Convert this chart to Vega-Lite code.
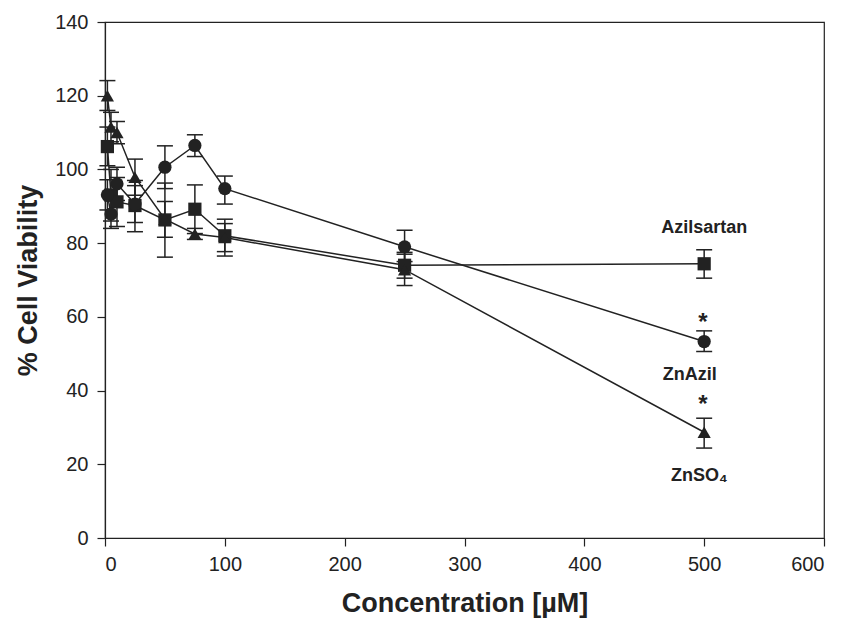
{
  "$schema": "https://vega.github.io/schema/vega-lite/v6.json",
  "width": 719,
  "height": 516,
  "autosize": {"type": "none"},
  "padding": {"left": 105, "top": 22, "right": 19, "bottom": 92},
  "background": "white",
  "config": {
    "view": {"stroke": "#222", "strokeWidth": 1.2},
    "font": "Liberation Sans",
    "axis": {"grid": false, "domainColor": "#222", "tickColor": "#222", "labelColor": "#222", "titleColor": "#222", "domainWidth": 1.2, "tickWidth": 1.2, "labelFont": "Liberation Sans", "titleFont": "Liberation Sans"}
  },
  "datasets": {
    "pts": [
      {"series": "Azilsartan", "conc": 2, "v": 106.2, "lo": 101.0, "hi": 111.5},
      {"series": "Azilsartan", "conc": 5, "v": 93.0, "lo": 86.0, "hi": 100.0},
      {"series": "Azilsartan", "conc": 10, "v": 91.2, "lo": 84.5, "hi": 97.8},
      {"series": "Azilsartan", "conc": 25, "v": 90.2, "lo": 83.1, "hi": 97.0},
      {"series": "Azilsartan", "conc": 50, "v": 86.3, "lo": 76.2, "hi": 96.3},
      {"series": "Azilsartan", "conc": 75, "v": 89.2, "lo": 82.6, "hi": 95.8},
      {"series": "Azilsartan", "conc": 100, "v": 82.0, "lo": 76.5, "hi": 86.5},
      {"series": "Azilsartan", "conc": 250, "v": 74.0, "lo": 70.5, "hi": 77.5},
      {"series": "Azilsartan", "conc": 500, "v": 74.4, "lo": 70.5, "hi": 78.2},
      {"series": "ZnAzil", "conc": 2, "v": 93.1, "lo": 89.0, "hi": 97.2},
      {"series": "ZnAzil", "conc": 5, "v": 87.9, "lo": 84.0, "hi": 91.8},
      {"series": "ZnAzil", "conc": 10, "v": 96.1, "lo": 91.6, "hi": 100.6},
      {"series": "ZnAzil", "conc": 25, "v": 90.6, "lo": 85.6, "hi": 95.6},
      {"series": "ZnAzil", "conc": 50, "v": 100.6, "lo": 94.8, "hi": 106.4},
      {"series": "ZnAzil", "conc": 75, "v": 106.5, "lo": 103.5, "hi": 109.4},
      {"series": "ZnAzil", "conc": 100, "v": 94.8, "lo": 90.6, "hi": 98.2},
      {"series": "ZnAzil", "conc": 250, "v": 79.0, "lo": 75.0, "hi": 83.5},
      {"series": "ZnAzil", "conc": 500, "v": 53.3, "lo": 50.6, "hi": 56.2},
      {"series": "ZnSO4", "conc": 2, "v": 120.0, "lo": 116.0, "hi": 124.1},
      {"series": "ZnSO4", "conc": 5, "v": 111.5, "lo": 107.5, "hi": 115.5},
      {"series": "ZnSO4", "conc": 10, "v": 110.0, "lo": 107.0, "hi": 113.0},
      {"series": "ZnSO4", "conc": 25, "v": 97.9, "lo": 93.0, "hi": 102.8},
      {"series": "ZnSO4", "conc": 50, "v": 86.5, "lo": 81.6, "hi": 91.3},
      {"series": "ZnSO4", "conc": 75, "v": 82.5, "lo": 81.0, "hi": 84.0},
      {"series": "ZnSO4", "conc": 100, "v": 81.5, "lo": 77.7, "hi": 85.3},
      {"series": "ZnSO4", "conc": 250, "v": 72.8, "lo": 68.5, "hi": 77.0},
      {"series": "ZnSO4", "conc": 500, "v": 28.7, "lo": 24.4, "hi": 32.5}
    ],
    "labels": [
      {"conc": 500, "v": 84.0, "text": "Azilsartan"},
      {"conc": 488, "v": 44.3, "text": "ZnAzil"},
      {"conc": 496, "v": 16.7, "text": "ZnSO₄"}
    ],
    "stars": [
      {"conc": 499, "v": 58.4, "text": "*"},
      {"conc": 499, "v": 36.0, "text": "*"}
    ]
  },
  "encoding": {
    "x": {
      "field": "conc", "type": "quantitative",
      "scale": {"domain": [0, 600], "nice": false, "zero": false},
      "axis": {"title": "Concentration [µM]", "values": [0, 100, 200, 300, 400, 500, 600], "tickSize": 8, "labelFontSize": 20, "labelPadding": 8, "titleFontSize": 27, "titleFontWeight": "bold", "titlePadding": 16}
    },
    "y": {
      "field": "v", "type": "quantitative",
      "scale": {"domain": [0, 140], "nice": false},
      "axis": {"title": "% Cell Viability", "values": [0, 20, 40, 60, 80, 100, 120, 140], "tickSize": 8, "labelFontSize": 20, "labelPadding": 9, "titleFontSize": 27, "titleFontWeight": "bold", "titlePadding": 12}
    }
  },
  "layer": [
    {
      "data": {"name": "pts"},
      "mark": {"type": "line", "color": "#222", "strokeWidth": 1.5},
      "encoding": {"detail": {"field": "series"}, "order": {"field": "conc", "type": "quantitative"}}
    },
    {
      "data": {"name": "pts"},
      "mark": {"type": "rule", "color": "#222", "strokeWidth": 1.5},
      "encoding": {"y": {"field": "lo", "type": "quantitative"}, "y2": {"field": "hi"}}
    },
    {
      "data": {"name": "pts"},
      "mark": {"type": "tick", "orient": "horizontal", "color": "#222", "size": 16, "thickness": 1.5, "opacity": 1},
      "encoding": {"y": {"field": "lo", "type": "quantitative"}}
    },
    {
      "data": {"name": "pts"},
      "mark": {"type": "tick", "orient": "horizontal", "color": "#222", "size": 16, "thickness": 1.5, "opacity": 1},
      "encoding": {"y": {"field": "hi", "type": "quantitative"}}
    },
    {
      "data": {"name": "pts"},
      "mark": {"type": "point", "filled": true, "color": "#222", "opacity": 1},
      "encoding": {
        "shape": {"field": "series", "type": "nominal", "scale": {"domain": ["Azilsartan", "ZnAzil", "ZnSO4"], "range": ["square", "circle", "triangle-up"]}, "legend": null},
        "size": {"field": "series", "type": "nominal", "scale": {"domain": ["Azilsartan", "ZnAzil", "ZnSO4"], "range": [175, 175, 240]}, "legend": null}
      }
    },
    {
      "data": {"name": "labels"},
      "mark": {"type": "text", "font": "Liberation Sans", "fontWeight": "bold", "fontSize": 18, "color": "#222", "align": "center", "baseline": "middle"},
      "encoding": {"text": {"field": "text"}}
    },
    {
      "data": {"name": "stars"},
      "mark": {"type": "text", "font": "Liberation Sans", "fontWeight": "bold", "fontSize": 24, "color": "#222", "align": "center", "baseline": "middle"},
      "encoding": {"text": {"field": "text"}}
    }
  ]
}
